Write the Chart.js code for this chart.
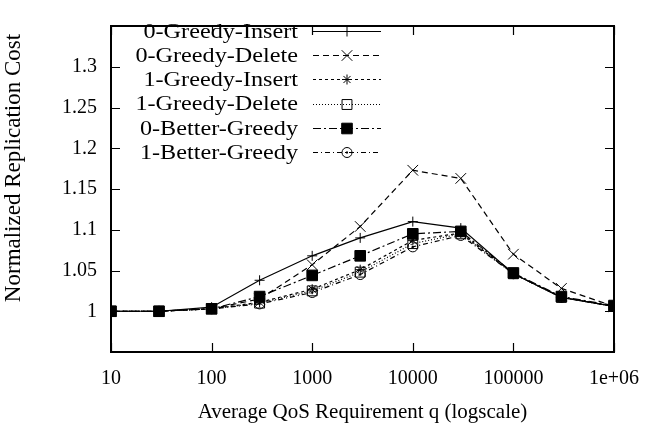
<!DOCTYPE html>
<html>
<head>
<meta charset="utf-8">
<script src="https://cdn.jsdelivr.net/npm/chart.js@4"></script>
<style>
  html, body { margin: 0; padding: 0; background: #fff; }
  #wrap { width: 663px; height: 433px; }
</style>
</head>
<body>
<div id="wrap"><canvas id="myChart" width="663" height="433"></canvas></div>
<script>
// QoS requirement values (x, log scale)
const qValues = [10, 30, 100, 300, 1000, 3000, 10000, 30000, 100000, 300000, 1000000];

const seriesNames = ["0-Greedy-Insert", "0-Greedy-Delete", "1-Greedy-Insert",
                     "1-Greedy-Delete", "0-Better-Greedy", "1-Better-Greedy"];

const greedyInsert0 = [1, 1, 1.005, 1.038, 1.068, 1.090, 1.110, 1.102, 1.046, 1.017, 1.006];
const greedyDelete0 = [1, 1, 1.003, 1.015, 1.057, 1.104, 1.173, 1.163, 1.070, 1.028, 1.006];
const greedyInsert1 = [1, 1, 1.003, 1.011, 1.027, 1.051, 1.087, 1.096, 1.046, 1.017, 1.006];
const greedyDelete1 = [1, 1, 1.003, 1.010, 1.025, 1.048, 1.083, 1.095, 1.046, 1.017, 1.006];
const betterGreedy0 = [1, 1, 1.003, 1.018, 1.044, 1.068, 1.095, 1.098, 1.047, 1.018, 1.007];
const betterGreedy1 = [1, 1, 1.003, 1.009, 1.023, 1.045, 1.079, 1.093, 1.046, 1.017, 1.006];

const xTickValues = [10, 100, 1000, 10000, 100000, 1000000];
const xTickLabels = ["10", "100", "1000", "10000", "100000", "1e+06"];
const yTickValues = [1, 1.05, 1.1, 1.15, 1.2, 1.25, 1.3];
const yTickLabels = ["1", "1.05", "1.1", "1.15", "1.2", "1.25", "1.3"];

const xTitle = "Average QoS Requirement q (logscale)";
const yTitle = "Normalized Replication Cost";

const FONT = "'Liberation Serif', 'Times New Roman', serif";

const toPoints = arr => arr.map((v, i) => ({ x: qValues[i], y: v }));

const styles = [
  { dash: [], point: "cross", radius: 5, fill: false },
  { dash: [6, 4], point: "crossRot", radius: 7.5, fill: false },
  { dash: [3, 3], point: "star", radius: 5, fill: false },
  { dash: [1, 2], point: "rect", radius: 7, fill: false },
  { dash: [8, 3, 2, 3], point: "rect", radius: 7.5, fill: true },
  { dash: [5, 3, 1, 3], point: "circle", radius: 5, fill: false }
];
const allSeries = [greedyInsert0, greedyDelete0, greedyInsert1, greedyDelete1, betterGreedy0, betterGreedy1];

const datasets = allSeries.map((s, i) => ({
  label: seriesNames[i],
  data: toPoints(s),
  borderColor: "#000",
  backgroundColor: styles[i].fill ? "#000" : "rgba(0,0,0,0)",
  borderWidth: 1.2,
  borderDash: styles[i].dash,
  pointStyle: styles[i].point,
  pointRadius: styles[i].radius,
  pointBorderWidth: 1,
  pointBackgroundColor: styles[i].fill ? "#000" : "rgba(0,0,0,0)",
  pointBorderColor: "#000",
  tension: 0,
  order: i === 4 ? -1 : i
}));

// gnuplot-ish frame with inward ticks, y title and key left of the samples
const framePlugin = {
  id: "frame",
  afterDraw(chart) {
    const { ctx, chartArea: a, scales } = chart;
    ctx.save();
    ctx.strokeStyle = "#000";
    ctx.lineWidth = 2;
    ctx.setLineDash([]);
    ctx.strokeRect(a.left, a.top, a.right - a.left, a.bottom - a.top);
    ctx.lineWidth = 1.2;
    ctx.beginPath();
    xTickValues.forEach(v => {
      const x = Math.round(scales.x.getPixelForValue(v)) + 0.5;
      ctx.moveTo(x, a.bottom); ctx.lineTo(x, a.bottom - 9);
      ctx.moveTo(x, a.top); ctx.lineTo(x, a.top + 9);
    });
    yTickValues.forEach(v => {
      const y = Math.round(scales.y.getPixelForValue(v)) + 0.5;
      ctx.moveTo(a.left, y); ctx.lineTo(a.left + 9, y);
      ctx.moveTo(a.right, y); ctx.lineTo(a.right - 9, y);
    });
    ctx.stroke();

    // small centre dot on the open circles
    ctx.fillStyle = "#000";
    chart.getDatasetMeta(5).data.forEach(p => { ctx.fillRect(p.x - 1, p.y - 1, 2, 2); });

    // y axis title
    ctx.save();
    ctx.translate(14, 168);
    ctx.rotate(-Math.PI / 2);
    ctx.font = "23px " + FONT;
    ctx.textAlign = "center";
    ctx.textBaseline = "middle";
    ctx.fillText(yTitle, 0, 0);
    ctx.restore();

    // key
    ctx.font = "22px " + FONT;
    ctx.textAlign = "right";
    ctx.textBaseline = "middle";
    chart.data.datasets.forEach((ds, i) => {
      const y = 31 + i * 24.2;
      ctx.save();
      ctx.translate(298, y + 1);
      ctx.scale(1.1, 1);
      ctx.fillStyle = "#000";
      ctx.fillText(ds.label, 0, 0);
      ctx.restore();
      ctx.beginPath();
      ctx.lineWidth = 1.2;
      ctx.setLineDash(ds.borderDash);
      ctx.moveTo(313, Math.round(y) + 0.5);
      ctx.lineTo(381, Math.round(y) + 0.5);
      ctx.stroke();
      ctx.setLineDash([]);
      ctx.lineWidth = 1;
      ctx.fillStyle = ds.pointBackgroundColor;
      Chart.helpers.drawPoint(ctx, {
        pointStyle: ds.pointStyle, radius: ds.pointRadius, rotation: 0, borderWidth: 1
      }, 347, Math.round(y) + 0.5);
      if (ds.pointStyle === "circle") {
        ctx.fillStyle = "#000";
        ctx.fillRect(346, Math.round(y) - 0.5, 2, 2);
      }
    });
    ctx.restore();
  }
};

new Chart(document.getElementById("myChart"), {
  type: "line",
  data: { datasets },
  plugins: [framePlugin],
  options: {
    responsive: false,
    animation: false,
    layout: { padding: { left: 0, right: 49, top: 3, bottom: 0 } },
    plugins: { legend: { display: false }, tooltip: { enabled: false } },
    scales: {
      x: {
        type: "logarithmic",
        min: 10,
        max: 1000000,
        afterBuildTicks: s => { s.ticks = xTickValues.map(v => ({ value: v })); },
        afterFit: s => { s.height = 81; },
        grid: { display: false, drawTicks: false },
        border: { display: false },
        ticks: {
          color: "#000",
          font: { family: FONT, size: 20 },
          padding: 15,
          maxRotation: 0,
          autoSkip: false,
          callback: v => xTickLabels[xTickValues.indexOf(v)]
        },
        title: {
          display: true,
          text: xTitle,
          color: "#000",
          font: { family: FONT, size: 21 },
          padding: { top: 0, bottom: 8 }
        }
      },
      y: {
        min: 0.95,
        max: 1.35,
        afterBuildTicks: s => { s.ticks = yTickValues.map(v => ({ value: v })); },
        afterFit: s => { s.width = 111; },
        grid: { display: false, drawTicks: false },
        border: { display: false },
        ticks: {
          color: "#000",
          font: { family: FONT, size: 20 },
          padding: 14,
          callback: v => yTickLabels[yTickValues.indexOf(v)]
        }
      }
    }
  }
});
</script>
</body>
</html>
